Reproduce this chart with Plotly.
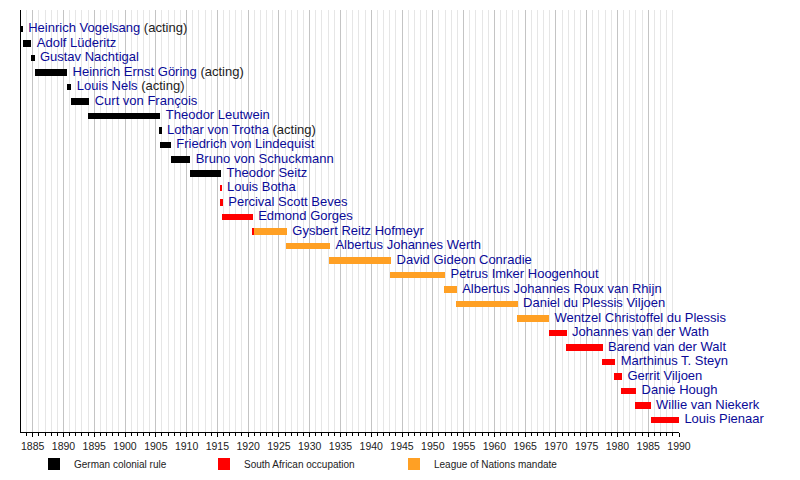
import plotly.graph_objects as go

# governors, top to bottom
names = ['Heinrich Vogelsang', 'Adolf Lüderitz', 'Gustav Nachtigal', 'Heinrich Ernst Göring',
         'Louis Nels', 'Curt von François', 'Theodor Leutwein', 'Lothar von Trotha',
         'Friedrich von Lindequist', 'Bruno von Schuckmann', 'Theodor Seitz', 'Louis Botha',
         'Percival Scott Beves', 'Edmond Gorges', 'Gysbert Reitz Hofmeyr', 'Albertus Johannes Werth',
         'David Gideon Conradie', 'Petrus Imker Hoogenhout', 'Albertus Johannes Roux van Rhijn',
         'Daniel du Plessis Viljoen', 'Wentzel Christoffel du Plessis', 'Johannes van der Wath',
         'Barend van der Walt', 'Marthinus T. Steyn', 'Gerrit Viljoen', 'Danie Hough',
         'Willie van Niekerk', 'Louis Pienaar']
acting = [True, False, False, True, True, False, False, True, False, False, False, False,
          False, False, False, False, False, False, False, False, False, False, False, False,
          False, False, False, False]

# term segments (row index, start year, end year, era)
seg_row = [0, 1, 2, 3, 4, 5, 6, 7, 8, 9, 10, 11, 12, 13, 14, 14, 15, 16, 17, 18, 19, 20,
           21, 22, 23, 24, 25, 26, 27]
seg_start = [1883.05, 1883.35, 1884.65, 1885.3, 1890.5, 1891.15, 1894.05, 1905.65, 1905.75,
             1907.4, 1910.6, 1915.5, 1915.5, 1915.8, 1920.67, 1920.88, 1926.2, 1933.2, 1943.1,
             1951.85, 1953.8, 1963.7, 1968.8, 1971.65, 1977.55, 1979.5, 1980.65, 1982.9, 1985.42]
seg_end = [1883.4, 1884.8, 1885.3, 1890.6, 1891.3, 1894.2, 1905.75, 1905.95, 1907.45,
           1910.6, 1915.6, 1915.7, 1915.9, 1920.75, 1920.88, 1926.3, 1933.3, 1943.25, 1952.0,
           1953.9, 1963.8, 1968.9, 1971.75, 1977.6, 1979.65, 1980.75, 1983.05, 1985.4, 1990.0]
seg_era = ['G'] * 11 + ['S', 'S', 'S', 'S', 'L', 'L', 'L', 'L', 'L', 'L', 'L',
                        'S', 'S', 'S', 'S', 'S', 'S', 'S']

eras = ['G', 'S', 'L']
era_names = {'G': 'German colonial rule', 'S': 'South African occupation',
             'L': 'League of Nations mandate'}
era_colors = {'G': '#000000', 'S': '#ff0000', 'L': '#ffa024'}
legend_ids = {'G': 'legend', 'S': 'legend2', 'L': 'legend3'}

fig = go.Figure()

for era in eras:
    idx = [i for i, e in enumerate(seg_era) if e == era]
    fig.add_trace(go.Bar(
        y=[seg_row[i] for i in idx],
        x=[seg_end[i] - seg_start[i] for i in idx],
        base=[seg_start[i] for i in idx],
        orientation='h', width=0.45,
        marker=dict(color=era_colors[era], line=dict(width=0)),
        name=era_names[era], legend=legend_ids[era]))

# label each governor at the end of the last term segment
label_x = []
for r in range(len(names)):
    label_x.append(max(seg_end[i] for i in range(len(seg_row)) if seg_row[i] == r))
labels = []
for n, a in zip(names, acting):
    t = n
    if a:
        t += ' <span style="color:#222222">(acting)</span>'
    labels.append(t)

fig.add_trace(go.Scatter(
    x=label_x, y=list(range(len(names))), mode='markers+text', text=labels,
    marker=dict(size=7, color='rgba(0,0,0,0)'), hoverinfo='skip',
    textposition='middle right', showlegend=False, cliponaxis=False,
    textfont=dict(family='Liberation Sans, Arial, sans-serif', size=13, color='#0a0a98')))

leg_font = dict(family='Liberation Sans Narrow, Arial Narrow, Liberation Sans', size=10, color='#222222')
legend_common = dict(orientation='h', yanchor='middle', y=0.05, xanchor='left',
                     xref='container', yref='container',
                     font=leg_font, bgcolor='rgba(0,0,0,0)', itemclick=False)

# page body adds an 8px offset, margins compensate for it
fig.update_layout(
    width=800, height=480,
    margin=dict(l=13, r=129, t=2, b=56, autoexpand=False),
    plot_bgcolor='white', paper_bgcolor='white',
    barmode='overlay',
    bargap=0,
    legend=dict(x=0.0325, **legend_common),
    legend2=dict(x=0.245, **legend_common),
    legend3=dict(x=0.4825, **legend_common),
    xaxis=dict(range=[1883.1, 1990], tick0=1885, dtick=5,
               showgrid=True, gridcolor='#c4c4c4', gridwidth=1,
               showline=True, linecolor='black', linewidth=1,
               ticks='outside', ticklen=4, tickcolor='black',
               tickfont=dict(family='Liberation Sans Narrow, Arial Narrow, Liberation Sans',
                             size=10.5, color='#222222'),
               minor=dict(dtick=1, tick0=1885, showgrid=True, gridcolor='#e6e6e6',
                          ticks='outside', ticklen=2.5, tickcolor='black'),
               zeroline=False, fixedrange=True, automargin=False),
    yaxis=dict(range=[27.84, -1.31], showticklabels=False, showgrid=False, automargin=False,
               showline=True, linecolor='black', linewidth=1, zeroline=False, ticks=''),
)

fig.write_html("out.html")
